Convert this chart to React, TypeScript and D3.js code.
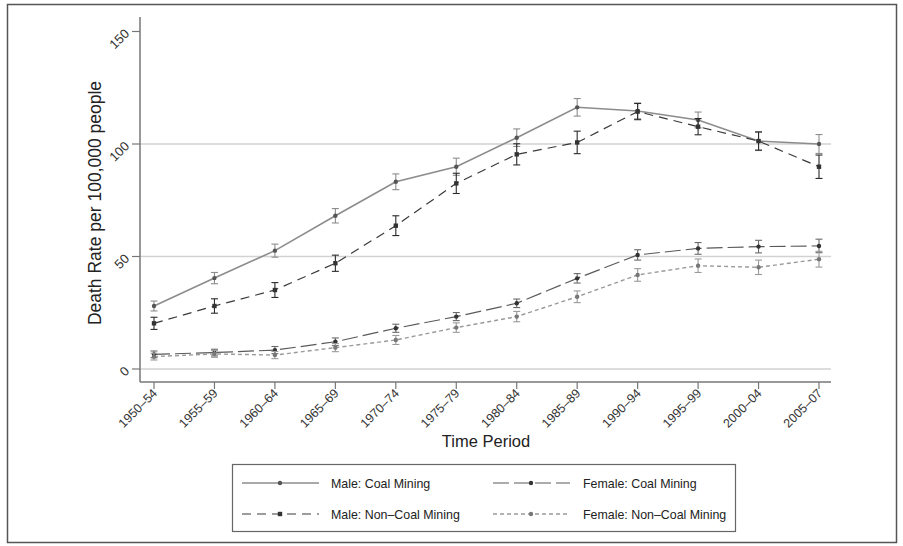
import React from "react";
import * as d3 from "d3";

const periods = ["1950–54","1955–59","1960–64","1965–69","1970–74","1975–79","1980–84","1985–89","1990–94","1995–99","2000–04","2005–07"];
const maleCoal = [28, 40.4, 52.6, 68.1, 83.2, 89.9, 102.8, 116.3, 114.7, 110.7, 101.3, 100];
const maleCoalCI = [2.2, 2.5, 2.9, 3.2, 3.5, 3.8, 3.9, 3.9, 3.5, 3.5, 4.2, 4.2];
const maleNonCoal = [20.3, 28, 35.1, 47, 63.7, 82.5, 95.4, 100.7, 114.4, 107.7, 101.3, 89.9];
const maleNonCoalCI = [2.7, 3.2, 3.3, 3.6, 4.4, 4.5, 4.7, 5, 3.6, 3.6, 4, 5.2];
const femaleCoal = [6.5, 7.3, 8.4, 12.1, 18.1, 23.3, 29.2, 40.3, 50.7, 53.6, 54.4, 54.7];
const femaleCoalCI = [1.5, 1.5, 1.6, 1.7, 1.8, 1.8, 1.9, 2.1, 2.3, 2.6, 2.8, 3];
const femaleNonCoal = [5.5, 6.7, 6.2, 9.5, 12.9, 18.4, 23.3, 32.1, 41.8, 45.9, 45.2, 48.8];
const femaleNonCoalCI = [1.5, 1.5, 1.6, 1.8, 2, 2.1, 2.3, 2.6, 2.8, 3, 3.2, 3.5];
const yTicks = [0, 50, 100, 150];
const gridValues = [0, 50, 100];

const seriesNames = ["Male: Coal Mining", "Female: Coal Mining", "Male: Non–Coal Mining", "Female: Non–Coal Mining"];

const FONT = "'Liberation Sans', Arial, Helvetica, sans-serif";

export default function App() {
  const x = d3.scaleLinear().domain([0, periods.length - 1]).range([154, 819]);
  const y = d3.scaleLinear().domain([0, 150]).range([369, 31.5]);
  const plotLeft = 140, plotRight = 831, plotTop = 17, plotBottom = 382;

  const series = [
    { name: seriesNames[0], values: maleCoal, ci: maleCoalCI, color: "#8c8c8c", barColor: "#8c8c8c", dash: "", width: 1.6, marker: "circle", markerColor: "#555" },
    { name: seriesNames[1], values: femaleCoal, ci: femaleCoalCI, color: "#5a5a5a", barColor: "#6a6a6a", dash: "16,5", width: 1.2, marker: "circle", markerColor: "#333" },
    { name: seriesNames[2], values: maleNonCoal, ci: maleNonCoalCI, color: "#3a3a3a", barColor: "#2a2a2a", dash: "9,6", width: 1.2, marker: "square", markerColor: "#333" },
    { name: seriesNames[3], values: femaleNonCoal, ci: femaleNonCoalCI, color: "#9a9a9a", barColor: "#9a9a9a", dash: "4,3", width: 1.4, marker: "circle", markerColor: "#777" },
  ];

  const line = d3.line<number>().x((_, i) => x(i)).y((d) => y(d));

  const drawMarker = (type: string, cx: number, cy: number, color: string, key: string) =>
    type === "square" ? (
      <rect key={key} x={cx - 2.2} y={cy - 2.2} width={4.4} height={4.4} fill={color} />
    ) : (
      <circle key={key} cx={cx} cy={cy} r={2.2} fill={color} />
    );

  const legendRows = [
    { s: series[0], kx: 242, tx: 331, ty: 483 },
    { s: series[1], kx: 493, tx: 583, ty: 483 },
    { s: series[2], kx: 242, tx: 331, ty: 514 },
    { s: series[3], kx: 493, tx: 583, ty: 514 },
  ];

  return (
    <svg width={903} height={546} style={{ position: "absolute", left: 0, top: 0, background: "#fff" }} fontFamily={FONT}>
      <rect x={0} y={0} width={903} height={546} fill="#fff" />
      <rect x={7.5} y={4.5} width={889} height={538} fill="none" stroke="#555" strokeWidth={1.5} />

      {/* gridlines */}
      {gridValues.map((v) => (
        <line key={"g" + v} x1={plotLeft} x2={plotRight} y1={y(v)} y2={y(v)} stroke="#d2d2d2" strokeWidth={1.5} />
      ))}

      {/* axes */}
      <line x1={plotLeft} x2={plotLeft} y1={plotTop} y2={plotBottom} stroke="#777" strokeWidth={1.5} />
      <line x1={plotLeft} x2={plotRight} y1={plotBottom} y2={plotBottom} stroke="#777" strokeWidth={1.5} />
      {yTicks.map((v) => (
        <g key={"yt" + v}>
          <line x1={plotLeft - 8} x2={plotLeft} y1={y(v)} y2={y(v)} stroke="#777" strokeWidth={1.2} />
          <text
            transform={`translate(${plotLeft - 10},${y(v) + 3}) rotate(-45)`}
            textAnchor="end"
            fontSize={13}
            fill="#333"
          >
            {v}
          </text>
        </g>
      ))}
      {periods.map((p, i) => (
        <g key={"xt" + p}>
          <line x1={x(i)} x2={x(i)} y1={plotBottom} y2={plotBottom + 7} stroke="#777" strokeWidth={1.2} />
          <text
            transform={`translate(${x(i) + 4},${plotBottom + 12}) rotate(-45)`}
            textAnchor="end"
            fontSize={12.5}
            fill="#333"
          >
            {p}
          </text>
        </g>
      ))}

      <text transform={`translate(101,203) rotate(-90)`} textAnchor="middle" fontSize={17.5} fill="#222">
        Death Rate per 100,000 people
      </text>
      <text x={486} y={447} textAnchor="middle" fontSize={16.5} fill="#222">
        Time Period
      </text>

      {/* series */}
      {series.map((s, si) => (
        <g key={"s" + si}>
          <path d={line(s.values) || ""} fill="none" stroke={s.color} strokeWidth={s.width} strokeDasharray={s.dash} />
          {s.values.map((v, i) => {
            const lo = y(v - s.ci[i]);
            const hi = y(v + s.ci[i]);
            const cx = x(i);
            return (
              <g key={"e" + i} stroke={s.barColor} strokeWidth={1.1}>
                <line x1={cx} x2={cx} y1={lo} y2={hi} />
                <line x1={cx - 3.5} x2={cx + 3.5} y1={lo} y2={lo} />
                <line x1={cx - 3.5} x2={cx + 3.5} y1={hi} y2={hi} />
              </g>
            );
          })}
          {s.values.map((v, i) => drawMarker(s.marker, x(i), y(v), s.markerColor, "m" + i))}
        </g>
      ))}

      {/* legend */}
      <rect x={232.5} y={464.5} width={503} height={67} fill="#fff" stroke="#666" strokeWidth={1.2} />
      {legendRows.map((r, i) => (
        <g key={"l" + i}>
          <line x1={r.kx} x2={r.kx + 77} y1={r.ty} y2={r.ty} stroke={r.s.color} strokeWidth={r.s.width} strokeDasharray={r.s.dash} />
          {drawMarker(r.s.marker, r.kx + 38, r.ty, r.s.markerColor, "lm" + i)}
          <text x={r.tx} y={r.ty + 4.5} fontSize={12.4} fill="#222">
            {r.s.name}
          </text>
        </g>
      ))}
    </svg>
  );
}
